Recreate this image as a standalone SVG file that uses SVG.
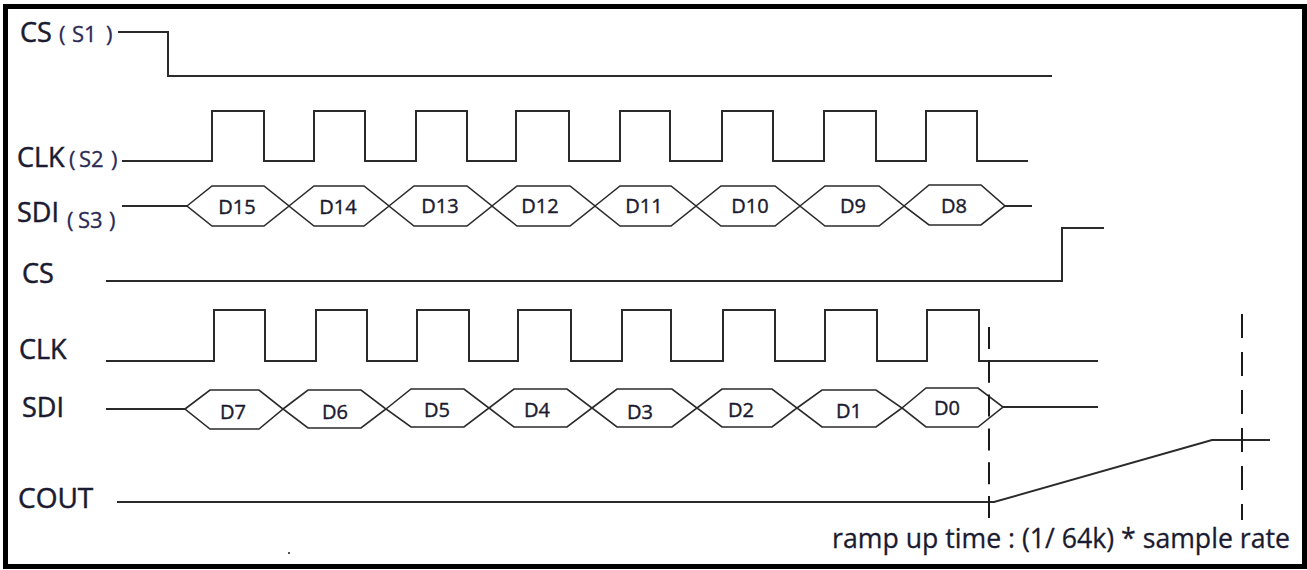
<svg xmlns="http://www.w3.org/2000/svg" width="1307" height="570" viewBox="0 0 1307 570">
<style>
.bg{fill:#ffffff}
.frame{fill:none;stroke:#000;stroke-width:5}
.w{fill:none;stroke:#2a2a2a;stroke-width:2;stroke-linejoin:miter}
.hex{fill:none;stroke:#2a2a2a;stroke-width:1.6}
.dash{fill:none;stroke:#1a1a1a;stroke-width:2;stroke-dasharray:24 14}
.lbl{font-family:"Open Sans","Liberation Sans",sans-serif;font-size:27px;fill:#1a1a30;stroke:#1a1a30;stroke-width:0.5}
.sub{font-family:"Open Sans","Liberation Sans",sans-serif;font-size:22px;fill:#2a2a55;stroke:#2a2a55;stroke-width:0.3}
.d{font-family:"Open Sans","Liberation Sans",sans-serif;font-size:20px;fill:#1a1a30;stroke:#1a1a30;stroke-width:0.4;text-anchor:middle}
.note{font-family:"Open Sans","Liberation Sans",sans-serif;font-size:27px;fill:#1a1a30;stroke:#1a1a30;stroke-width:0.3}
</style>
<rect class="bg" x="0" y="0" width="1307" height="570"/>
<rect class="frame" x="5.5" y="6.5" width="1299" height="560"/>

<g id="cs1">
<text class="lbl" x="20" y="42">CS</text>
<text class="sub" x="59" y="42">(</text>
<text class="sub" x="72" y="42">S1</text>
<text class="sub" x="106" y="42">)</text>
<path class="w" d="M118,32 H168 V76 H1052"/>
</g>

<g id="clk1">
<text class="lbl" x="17" y="167">CLK</text>
<text class="sub" x="69" y="167">(</text>
<text class="sub" x="79" y="167">S2</text>
<text class="sub" x="111" y="167">)</text>
<path class="w" d="M122,161 H212 V111 H264 V161 H314 V111 H365 V161 H416 V111 H467 V161 H516 V111 H569 V161 H620 V111 H670 V161 H722 V111 H773 V161 H824 V111 H876 V161 H926 V111 H977 V161 H1028"/>
</g>

<g id="sdi1">
<text class="lbl" x="17" y="222">SDI</text>
<text class="sub" x="67" y="228">(</text>
<text class="sub" x="78" y="228">S3</text>
<text class="sub" x="109" y="228">)</text>
<path class="w" d="M122,206 H187 M1005,206 H1032"/>
<path class="hex" d="M187,206 L212,186 H264 L289,206 L264,226 H212 Z"/>
<path class="hex" d="M289,206 L314,186 H364 L389,206 L364,226 H314 Z"/>
<path class="hex" d="M389,206 L414,186 H467 L492,206 L467,226 H414 Z"/>
<path class="hex" d="M492,206 L517,186 H570 L595,206 L570,226 H517 Z"/>
<path class="hex" d="M595,206 L620,186 H671 L696,206 L671,226 H620 Z"/>
<path class="hex" d="M696,206 L721,186 H775 L800,206 L775,226 H721 Z"/>
<path class="hex" d="M800,206 L825,186 H879 L904,206 L879,226 H825 Z"/>
<path class="hex" d="M904,206 L929,185 H981 L1005,206 L981,225 H929 Z"/>
<text class="d" x="237" y="214">D15</text>
<text class="d" x="338" y="214">D14</text>
<text class="d" x="440" y="213">D13</text>
<text class="d" x="540" y="213">D12</text>
<text class="d" x="644" y="213">D11</text>
<text class="d" x="750" y="213">D10</text>
<text class="d" x="853" y="213">D9</text>
<text class="d" x="954" y="213">D8</text>
</g>

<g id="cs2">
<text class="lbl" x="22" y="283">CS</text>
<path class="w" d="M106,281 H1062 V228 H1104"/>
</g>

<g id="clk2">
<text class="lbl" x="19" y="359">CLK</text>
<path class="w" d="M106,361 H214 V310 H265 V361 H316 V310 H367 V361 H417 V310 H469 V361 H518 V310 H571 V361 H622 V310 H671 V361 H723 V310 H775 V361 H825 V310 H877 V361 H927 V310 H979 V361 H1098"/>
</g>

<g id="sdi2">
<text class="lbl" x="22" y="417">SDI</text>
<path class="w" d="M106,409 H185 M1003,407 H1098"/>
<path class="hex" d="M185,409 L210,390 H259 L283,409 L259,429 H210 Z"/>
<path class="hex" d="M283,409 L308,390 H361 L386,409 L361,428 H308 Z"/>
<path class="hex" d="M386,409 L411,389 H464 L489,408 L464,427 H411 Z"/>
<path class="hex" d="M489,408 L514,389 H567 L592,408 L567,427 H514 Z"/>
<path class="hex" d="M592,408 L617,389 H672 L697,408 L672,427 H617 Z"/>
<path class="hex" d="M697,408 L722,389 H772 L797,408 L772,427 H722 Z"/>
<path class="hex" d="M797,408 L822,390 H876 L902,408 L876,427 H822 Z"/>
<path class="hex" d="M902,408 L926,388 H978 L1003,407 L978,427 H926 Z"/>
<text class="d" x="233" y="419">D7</text>
<text class="d" x="335" y="419">D6</text>
<text class="d" x="437" y="417">D5</text>
<text class="d" x="537" y="417">D4</text>
<text class="d" x="640" y="419">D3</text>
<text class="d" x="741" y="417">D2</text>
<text class="d" x="849" y="418">D1</text>
<text class="d" x="947" y="415">D0</text>
</g>

<g id="cout">
<text class="lbl" x="18" y="508" style="font-size:28px">COUT</text>
<path class="w" d="M117,502 H994 L1212,440 H1270"/>
</g>

<g id="connectors">
<line class="dash" x1="989" y1="327" x2="989" y2="518" style="stroke-dasharray:22 11.8"/>
<line class="dash" x1="1242" y1="314" x2="1242" y2="520"/>
</g>

<g id="note">
<text class="note" x="832" y="548" textLength="458" lengthAdjust="spacingAndGlyphs">ramp up time : (1/ 64k) * sample rate</text>
<rect x="288" y="552" width="2" height="2" fill="#555"/>
</g>
</svg>
